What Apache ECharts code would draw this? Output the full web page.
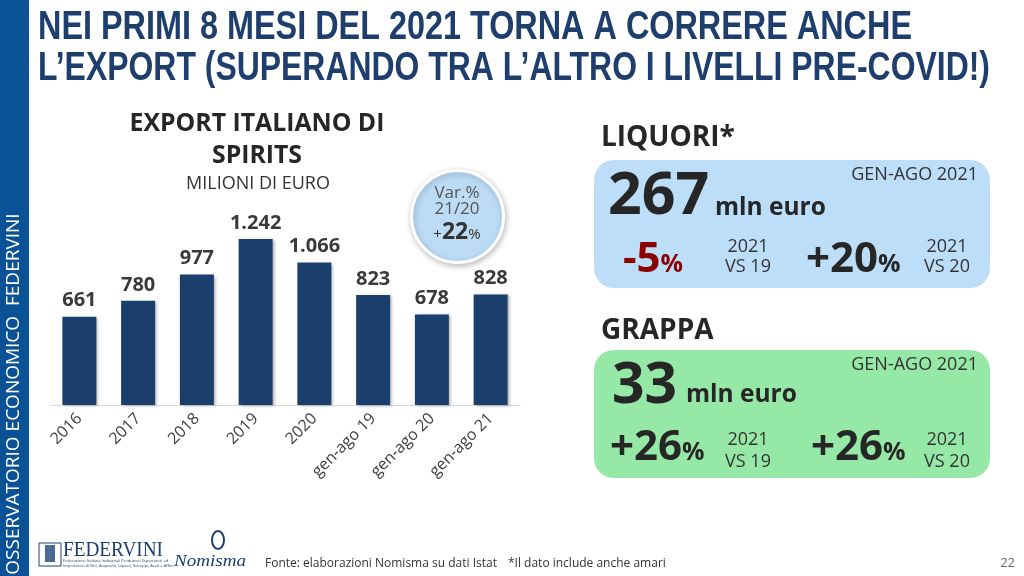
<!DOCTYPE html>
<html><head><meta charset="utf-8">
<script src="https://cdn.jsdelivr.net/npm/echarts@6/dist/echarts.min.js"></script>
<style>html,body{margin:0;padding:0;background:#fff}#c{width:1024px;height:576px}</style>
</head><body><div id="c"></div>
<script>
const categories = ['2016','2017','2018','2019','2020','gen-ago 19','gen-ago 20','gen-ago 21'];
const exportValues = [661, 780, 977, 1242, 1066, 823, 678, 828];
const varPct = '22';
const liquori = { value: '267', vs19: '-5', vs20: '+20' };
const grappa = { value: '33', vs19: '+26', vs20: '+26' };

const chart = echarts.init(document.getElementById('c'));
const fmt = v => String(v).replace(/\B(?=(\d{3})+(?!\d))/g, '.');
const F = '"Open Sans","Noto Sans",sans-serif';
const TF = '"Liberation Sans",Arial,sans-serif';
const dark = '#262626';
const mctx = document.createElement('canvas').getContext('2d');
function tw(text, font){ mctx.font = font; return mctx.measureText(text).width; }

function fitText(text, font, x, y, width, fill, extra){
  const s = width / tw(text, font);
  return Object.assign({type:'text', x:x, y:y, scaleX:s, style:{text:text, font:font, fill:fill, verticalAlign:'middle'}}, extra||{});
}

function kpiBox(y0, color, d) {
  const els = [];
  els.push({type:'text', x:601, y:d.titleY, style:{text:d.title, font:'bold 28px '+F, fill:dark, verticalAlign:'middle'}});
  els.push({type:'rect', shape:{x:594, y:y0, width:396, height:128, r:20}, style:{fill:color}});
  els.push({type:'text', x:978, y:y0+15, style:{text:'GEN-AGO 2021', font:'18px '+F, fill:'#333', align:'right', verticalAlign:'middle'}});
  els.push({type:'text', x:d.vx, y:y0+d.vy, style:{text:d.value, font:'bold '+d.vs+'px '+F, fill:dark, verticalAlign:'middle'}});
  els.push({type:'text', x:d.mx, y:y0+d.my, style:{text:'mln euro', font:'bold 24.5px '+F, fill:dark, verticalAlign:'middle'}});
  const pc = d.neg ? '#8b0000' : dark;
  const rich = c => ({a:{font:'bold 42px '+F, fill:c}, b:{font:'bold 25px '+F, fill:c, padding:[10,0,0,0]}});
  els.push({type:'text', x:d.p1x, y:y0+d.py, style:{text:'{a|'+d.vs19+'}{b|%}', verticalAlign:'middle', rich:rich(pc)}});
  els.push({type:'text', x:748, y:y0+d.ly, style:{text:'2021\nVS 19', font:'18px '+F, fill:'#333', align:'center', verticalAlign:'middle', lineHeight:d.lh}});
  els.push({type:'text', x:d.p2x, y:y0+d.py, style:{text:'{a|'+d.vs20+'}{b|%}', verticalAlign:'middle', rich:rich(dark)}});
  els.push({type:'text', x:947, y:y0+d.ly, style:{text:'2021\nVS 20', font:'18px '+F, fill:'#333', align:'center', verticalAlign:'middle', lineHeight:d.lh}});
  return els;
}

const t1 = 'NEI PRIMI 8 MESI DEL 2021 TORNA A CORRERE ANCHE';
const t2 = 'L\u2019EXPORT (SUPERANDO TRA L\u2019ALTRO I LIVELLI PRE-COVID!)';
const tfont = 'bold 41px ' + TF;

const graphics = [
  {type:'rect', shape:{x:0,y:0,width:29,height:576}, style:{fill:'#0b5195'}},
  {type:'text', x:14, y:394, rotation:Math.PI/2, style:{text:'OSSERVATORIO ECONOMICO  FEDERVINI', font:'19px '+F, fill:'#fff', align:'center', verticalAlign:'middle'}},
  fitText(t1, tfont, 38, 28, 874, '#1e3f6e'),
  fitText(t2, tfont, 38, 69, 952, '#1e3f6e'),
  {type:'text', x:257, y:140, style:{text:'EXPORT ITALIANO DI\nSPIRITS', font:'bold 24.8px '+F, fill:dark, align:'center', verticalAlign:'middle', lineHeight:32}},
  {type:'text', x:258, y:184, style:{text:'MILIONI DI EURO', font:'18px '+F, fill:'#333', align:'center', verticalAlign:'middle'}},
  {type:'circle', shape:{cx:457.5, cy:216.5, r:46}, style:{fill:'#bcdcf6', stroke:'#fff', lineWidth:3, shadowBlur:6, shadowColor:'rgba(0,0,0,0.25)', shadowOffsetX:1, shadowOffsetY:2}},
  {type:'text', x:457, y:193, style:{text:'Var.%', font:'17px '+F, fill:'#555', align:'center', verticalAlign:'middle'}},
  {type:'text', x:457, y:209, style:{text:'21/20', font:'17px '+F, fill:'#555', align:'center', verticalAlign:'middle'}},
  {type:'text', x:457, y:232, style:{text:'{a|+}{b|'+varPct+'}{a|%}', align:'center', verticalAlign:'middle', rich:{a:{font:'15px '+F, fill:'#333', padding:[5,0,0,0]}, b:{font:'bold 23px '+F, fill:'#333'}}}},
  // footer logos (approximate)
  {type:'rect', shape:{x:39, y:543, width:22, height:23}, style:{fill:'none', stroke:'#1e3f6e', lineWidth:1}},
  {type:'text', x:50, y:554, style:{text:'\u2590\u258C', font:'14px '+F, fill:'#4a6a94', align:'center', verticalAlign:'middle'}},
  fitText('FEDERVINI', '22px "Liberation Serif",serif', 63, 550, 100, '#1e3f6e'),
  {type:'text', x:63, y:561, style:{text:'Federazione Italiana Industriali Produttori Esportatori ed', font:'4px '+F, fill:'#1e3f6e', verticalAlign:'middle'}},
  {type:'text', x:63, y:566, style:{text:'Importatori di Vini, Acquaviti, Liquori, Sciroppi, Aceti e Affini', font:'4px '+F, fill:'#1e3f6e', verticalAlign:'middle'}},
  fitText('Nomisma', 'italic 16px "Liberation Serif",serif', 174, 562, 72, '#1e3f6e'),
  {type:'ellipse', shape:{cx:218, cy:540, rx:6, ry:9}, style:{fill:'none', stroke:'#1e3f6e', lineWidth:2}},
  {type:'text', x:265, y:564, style:{text:'Fonte: elaborazioni Nomisma su dati Istat', font:'12px '+F, fill:'#333', verticalAlign:'middle'}},
  {type:'text', x:508, y:564, style:{text:'*Il dato include anche amari', font:'12px '+F, fill:'#333', verticalAlign:'middle'}},
  {type:'text', x:1015, y:563, style:{text:'22', font:'13px '+F, fill:'#666', align:'right', verticalAlign:'middle'}}
].concat(
  kpiBox(160, '#bcdef9', {title:'LIQUORI*', titleY:138, value:liquori.value, vs:59, vx:608, vy:37, mx:715, my:48,
    vs19:liquori.vs19, vs20:liquori.vs20, neg:true, p1x:623, p2x:806, py:100, ly:97, lh:20}),
  kpiBox(350, '#96e8a6', {title:'GRAPPA', titleY:331, value:grappa.value, vs:57, vx:612, vy:37, mx:686, my:45,
    vs19:grappa.vs19, vs20:grappa.vs20, neg:false, p1x:610, p2x:811, py:98, ly:101, lh:22})
);

chart.setOption({
  animation:false,
  grid:{left:50, right:504, top:218, bottom:171, containLabel:false},
  xAxis:{type:'category', data:categories, axisTick:{show:false},
    axisLine:{lineStyle:{color:'#d9d9d9', width:1}},
    axisLabel:{rotate:45, fontSize:16, color:'#404040', fontFamily:F, margin:11, interval:0}},
  yAxis:{type:'value', min:0, max:1400, show:false, splitLine:{show:false}},
  series:[{type:'bar', data:exportValues, barWidth:34,
    itemStyle:{color:'#1b3f6d', shadowBlur:3, shadowOffsetX:2, shadowOffsetY:1, shadowColor:'rgba(0,0,0,0.3)'},
    label:{show:true, position:'top', distance:6, formatter:p=>fmt(p.value), fontSize:20, fontWeight:'bold', color:'#3a3a3a', fontFamily:F}}],
  graphic:graphics
});
</script></body></html>
